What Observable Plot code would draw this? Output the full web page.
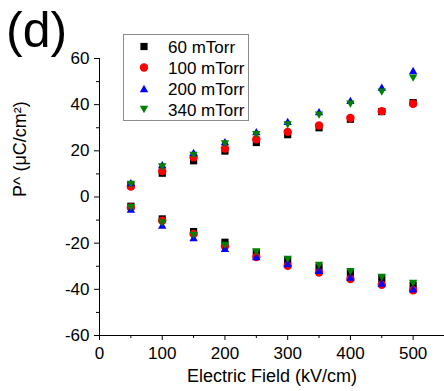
<!DOCTYPE html>
<html>
<head>
<meta charset="utf-8">
<script src="https://cdn.jsdelivr.net/npm/d3@7"></script>
<script src="https://cdn.jsdelivr.net/npm/@observablehq/plot@0.6"></script>
<style>
  html, body { margin: 0; padding: 0; background: white; }
  #chart { position: relative; width: 444px; height: 391px; overflow: hidden; }
</style>
</head>
<body>
<div id="chart"></div>
<script>
// ---- data ----
const fields = [50, 100, 150, 200, 250, 300, 350, 400, 450, 500];

const p60Up    = [5.0, 10.3, 15.7, 19.9, 23.6, 27.0, 30.0, 33.7, 37.0, 40.9];
const p100Up   = [4.5, 11.2, 17.2, 21.0, 25.0, 28.2, 31.0, 34.2, 37.2, 40.4];
const p200Up   = [6.2, 14.0, 19.3, 24.0, 28.3, 32.8, 37.0, 41.9, 47.6, 54.8];
const p340Up   = [5.5, 13.0, 18.0, 23.0, 27.0, 31.2, 35.5, 40.2, 45.4, 51.5];

const p60Down  = [-4.0, -9.5, -15.0, -19.6, -24.2, -27.5, -30.4, -33.0, -35.4, -38.3];
const p100Down = [-4.5, -10.3, -16.0, -21.4, -26.0, -29.8, -32.7, -35.5, -38.0, -40.4];
const p200Down = [-5.2, -12.2, -17.6, -22.2, -25.8, -28.9, -31.8, -34.7, -37.3, -39.8];
const p340Down = [-4.6, -11.2, -16.6, -21.0, -23.8, -27.0, -29.6, -32.3, -34.8, -37.4];

const seriesNames = ["60 mTorr", "100 mTorr", "200 mTorr", "340 mTorr"];
const xMajorTicks = [0, 100, 200, 300, 400, 500];
const xMinorTicks = [50, 150, 250, 350, 450];
const yMajorTicks = [-60, -40, -20, 0, 20, 40, 60];
const yMinorTicks = [-50, -30, -10, 10, 30, 50];
const xLabel = "Electric Field (kV/cm)";
const yLabel = "P^ (\u03BCC/cm\u00B2)";
const panelLabel = "(d)";

// ---- symbols (r = half width) ----
const rOf = size => Math.sqrt(size / Math.PI);
const symSquare = { draw(ctx, size) { const s = rOf(size); ctx.rect(-s, -s, 2 * s, 2 * s); } };
const symCircle = { draw(ctx, size) { const r = rOf(size); ctx.moveTo(r, 0); ctx.arc(0, 0, r, 0, 2 * Math.PI); } };
const symTriUp = { draw(ctx, size) { const r = rOf(size), h = r * Math.sqrt(3); ctx.moveTo(0, -h / 2); ctx.lineTo(r, h / 2); ctx.lineTo(-r, h / 2); ctx.closePath(); } };
const symTriDown = { draw(ctx, size) { const r = rOf(size), h = r * Math.sqrt(3); ctx.moveTo(0, h / 2); ctx.lineTo(r, -h / 2); ctx.lineTo(-r, -h / 2); ctx.closePath(); } };

const series = [
  { name: seriesNames[0], up: p60Up,  down: p60Down,  color: "#000000", symbol: symSquare,  r: 3.6 },
  { name: seriesNames[1], up: p100Up, down: p100Down, color: "#ff0000", symbol: symCircle,  r: 4.2 },
  { name: seriesNames[2], up: p200Up, down: p200Down, color: "#0000ff", symbol: symTriUp,   r: 4.2 },
  { name: seriesNames[3], up: p340Up, down: p340Down, color: "#008000", symbol: symTriDown, r: 4.2 }
];

const dotMarks = [];
for (const s of series) {
  const rows = [];
  fields.forEach((f, i) => { rows.push({ x: f, y: s.up[i] }); rows.push({ x: f, y: s.down[i] }); });
  dotMarks.push(Plot.dot(rows, { x: "x", y: "y", symbol: () => s.symbol, r: s.r, fill: s.color, stroke: "none" }));
}

const fmt = d => String(d); // hyphen-minus, as in the reference

const W = 444, H = 391;
const svg = Plot.plot({
  width: W, height: H,
  marginLeft: 99, marginRight: 0, marginTop: 58, marginBottom: 56,
  style: { fontFamily: "'Liberation Sans', Arial, sans-serif", color: "black", background: "white", overflow: "visible" },
  x: { domain: [0, 550] },
  y: { domain: [-60, 60] },
  symbol: { type: "identity" },
  marks: [
    Plot.ruleX([0], { stroke: "black", strokeWidth: 1 }),
    Plot.ruleY([-60], { stroke: "black", strokeWidth: 1 }),
    Plot.axisX({ ticks: xMajorTicks, tickSize: 5, tickPadding: 6, fontSize: 17, tickFormat: fmt, label: null, stroke: "black" }),
    Plot.axisX({ ticks: xMinorTicks, tickSize: 3, tickFormat: () => "", label: null, stroke: "black" }),
    Plot.axisY({ ticks: yMajorTicks, tickSize: 5, tickPadding: 5, fontSize: 17, tickFormat: fmt, label: null, stroke: "black" }),
    Plot.axisY({ ticks: yMinorTicks, tickSize: 3, tickFormat: () => "", label: null, stroke: "black" }),
    Plot.text([xLabel], { text: d => d, frameAnchor: "bottom", dy: 46, fontSize: 18, fill: "black" }),
    Plot.text([yLabel], { text: d => d, frameAnchor: "left", rotate: -90, dx: -79, fontSize: 18, fill: "black" }),
    ...dotMarks
  ]
});

// legend + panel label
const g = d3.select(svg).append("g")
  .attr("font-family", "'Liberation Sans', Arial, sans-serif")
  .attr("text-anchor", "start");
g.append("rect").attr("x", 123.5).attr("y", 34.5).attr("width", 125).attr("height", 86)
  .attr("fill", "white").attr("stroke", "#8c8c8c").attr("stroke-width", 1);
series.forEach((s, i) => {
  const y = 46.5 + i * 21;
  g.append("path").attr("transform", `translate(144,${y})`)
    .attr("d", d3.symbol(s.symbol, Math.PI * s.r * s.r)()).attr("fill", s.color);
  g.append("text").attr("x", 168).attr("y", y).attr("dy", "0.36em")
    .attr("text-anchor", "start")
    .attr("font-size", 17).attr("fill", "black").text(s.name);
});
g.append("text").attr("x", 6).attr("y", 47).attr("font-size", 50)
  .attr("text-anchor", "start").attr("fill", "black").text(panelLabel);

document.getElementById("chart").appendChild(svg);
</script>
</body>
</html>
